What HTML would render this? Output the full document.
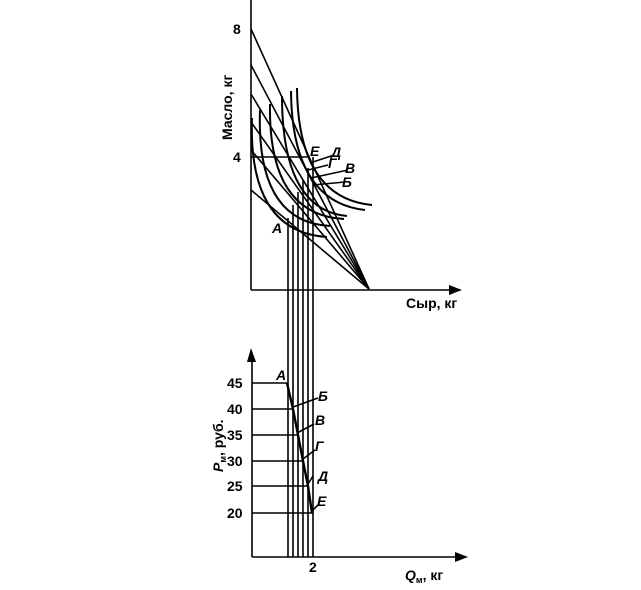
<!DOCTYPE html>
<html><head><meta charset="utf-8"><style>body{margin:0;background:#fff}svg{display:block}text{font-family:"Liberation Sans",sans-serif;font-weight:bold;fill:#000}</style></head><body>
<svg width="641" height="590" viewBox="0 0 641 590" xmlns="http://www.w3.org/2000/svg">
<g stroke="#000" stroke-width="1.6" fill="none">
<line x1="251" y1="0" x2="251" y2="290"/>
<line x1="251" y1="290" x2="455" y2="290"/>
<line x1="251" y1="29" x2="369" y2="289"/>
<line x1="251" y1="65" x2="369" y2="289"/>
<line x1="251" y1="94" x2="369" y2="289"/>
<line x1="251" y1="122" x2="369" y2="289"/>
<line x1="251" y1="150" x2="369" y2="289"/>
<line x1="251" y1="190" x2="369" y2="289"/>
<line x1="251" y1="157" x2="310" y2="157"/>
<path stroke-width="2" d="M297 88 Q298 198 372 205"/>
<path stroke-width="2" d="M291 91 Q292 202 365 210"/>
<path stroke-width="2" d="M282 96 Q282 210 347 216"/>
<path stroke-width="2" d="M270 104 Q268 215 344 219"/>
<path stroke-width="2" d="M260 110 Q256 222 330 226"/>
<path stroke-width="2" d="M252 118 Q248 232 327 237"/>
<line x1="288" y1="218" x2="288" y2="557"/>
<line x1="293" y1="205" x2="293" y2="557"/>
<line x1="298" y1="192" x2="298" y2="557"/>
<line x1="303" y1="180" x2="303" y2="557"/>
<line x1="308" y1="168" x2="308" y2="557"/>
<line x1="313" y1="157" x2="313" y2="557"/>
<line x1="252" y1="357" x2="252" y2="557"/>
<line x1="252" y1="557" x2="458" y2="557"/>
<line x1="252" y1="383" x2="287" y2="383"/>
<line x1="252" y1="409" x2="293" y2="409"/>
<line x1="252" y1="435" x2="298" y2="435"/>
<line x1="252" y1="461" x2="303" y2="461"/>
<line x1="252" y1="486" x2="308" y2="486"/>
<line x1="252" y1="513" x2="313" y2="513"/>
<path stroke-width="2.4" d="M287 383 L293 409 L298 435 L303 461 L308 486 L312 513"/>
<line x1="310" y1="163" x2="334" y2="155"/>
<line x1="308" y1="170" x2="328" y2="165"/>
<line x1="311" y1="178" x2="348" y2="170"/>
<line x1="313" y1="185" x2="345" y2="182"/>
<line x1="293" y1="407" x2="318" y2="398"/>
<line x1="297" y1="433" x2="314" y2="424"/>
<line x1="303" y1="459" x2="315" y2="450"/>
<line x1="308" y1="484" x2="313" y2="476"/>
<line x1="312" y1="511" x2="318" y2="505"/>
</g>
<polygon points="251,348 247,362 256,362"/>
<polygon points="468,557 455,552 455,562"/>
<polygon points="462,290 449,285 449,295"/>
<g font-size="14">
<text x="233" y="34">8</text>
<text x="233" y="162">4</text>
<text x="310" y="156" font-style="italic">Е</text>
<text x="331" y="157" font-style="italic">Д</text>
<text x="328" y="168" font-style="italic">Г</text>
<text x="345" y="173" font-style="italic">В</text>
<text x="342" y="187" font-style="italic">Б</text>
<text x="272" y="233" font-style="italic">А</text>
<text x="406" y="308">Сыр, кг</text>
<text transform="translate(232,140) rotate(-90)">Масло, кг</text>
<text x="227" y="388">45</text>
<text x="227" y="414">40</text>
<text x="227" y="440">35</text>
<text x="227" y="466">30</text>
<text x="227" y="491">25</text>
<text x="227" y="518">20</text>
<text x="276" y="380" font-style="italic">А</text>
<text x="318" y="401" font-style="italic">Б</text>
<text x="315" y="425" font-style="italic">В</text>
<text x="315" y="451" font-style="italic">Г</text>
<text x="318" y="481" font-style="italic">Д</text>
<text x="317" y="506" font-style="italic">Е</text>
<text x="309" y="572">2</text>
<text x="405" y="580"><tspan font-style="italic">Q</tspan><tspan font-size="9" dy="3">м</tspan><tspan dy="-3">, кг</tspan></text>
<text transform="translate(223,472) rotate(-90)"><tspan font-style="italic">P</tspan><tspan font-size="9" dy="3">м</tspan><tspan dy="-3">, руб.</tspan></text>
</g>
</svg>
</body></html>
